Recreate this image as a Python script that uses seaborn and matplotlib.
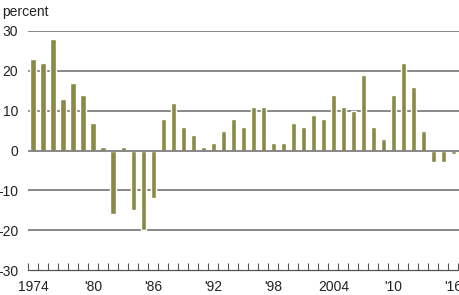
import matplotlib
matplotlib.use("Agg")
import matplotlib.pyplot as plt
import seaborn as sns
import numpy as np
import pandas as pd

years = list(range(1974, 2017))
values = [23, 22, 28, 13, 17, 14, 7, 1, -16, 1, -15, -20, -12, 8, 12, 6, 4, 1, 2, 5,
          8, 6, 11, 11, 2, 2, 7, 6, 9, 8, 14, 11, 10, 19, 6, 3, 14, 22, 16, 5,
          -3, -3, -1]
tick_years = [1974, 1980, 1986, 1992, 1998, 2004, 2010, 2016]
tick_labels = ["1974", "'80", "'86", "'92", "'98", "2004", "'10", "'16"]
y_ticks = [30, 20, 10, 0, -10, -20, -30]
y_labels = ["30", "20", "10", "0", "-10", "-20", "-30"]

sns.set_theme(style="white")
plt.rcParams['font.family'] = ['Liberation Sans', 'DejaVu Sans']

W, H = 460, 295
fig = plt.figure(figsize=(W / 100, H / 100), dpi=100)
left, right, top, bottom = 28, 460, 31, 270
ax = fig.add_axes([left / W, 1 - bottom / H, (right - left) / W, (bottom - top) / H])

df = pd.DataFrame({"year": [str(y) for y in years], "value": values})
sns.barplot(data=df, x="year", y="value", color="#8a8a45", width=0.52,
            saturation=1, ax=ax, zorder=2)

ax.set_ylim(-30, 30)
ax.set_xlim(-0.5, (right - 33.5) / 10)
for yv in [30, 20, 10, 0, -10, -20]:
    ax.axhline(yv, color="#7f7f7f", lw=1.3, zorder=1 if yv != 0 else 3)

for s in ["top", "right", "left"]:
    ax.spines[s].set_visible(False)
ax.spines["bottom"].set_color("#555555")
ax.spines["bottom"].set_linewidth(0.9)

ax.set_yticks(y_ticks)
ax.set_yticklabels(y_labels, fontsize=10, color="#222222")
ax.tick_params(axis="y", length=0, pad=7)

pos = [years.index(y) for y in tick_years]
ax.set_xticks(pos)
ax.set_xticklabels(tick_labels, fontsize=10, color="#222222")
ax.tick_params(axis="x", which="major", length=0, pad=7)
ax.set_xticks([i - 0.5 for i in range(len(years) + 1)], minor=True)
ax.tick_params(axis="x", which="minor", direction="in", length=5, width=0.8,
               color="#555555", bottom=True)
ax.set_xlabel("")
ax.set_ylabel("")

fig.text(2 / W, 1 - 12 / H, "percent", fontsize=10, color="#222222",
         va="center", ha="left")

fig.savefig("out.png", dpi=100)
